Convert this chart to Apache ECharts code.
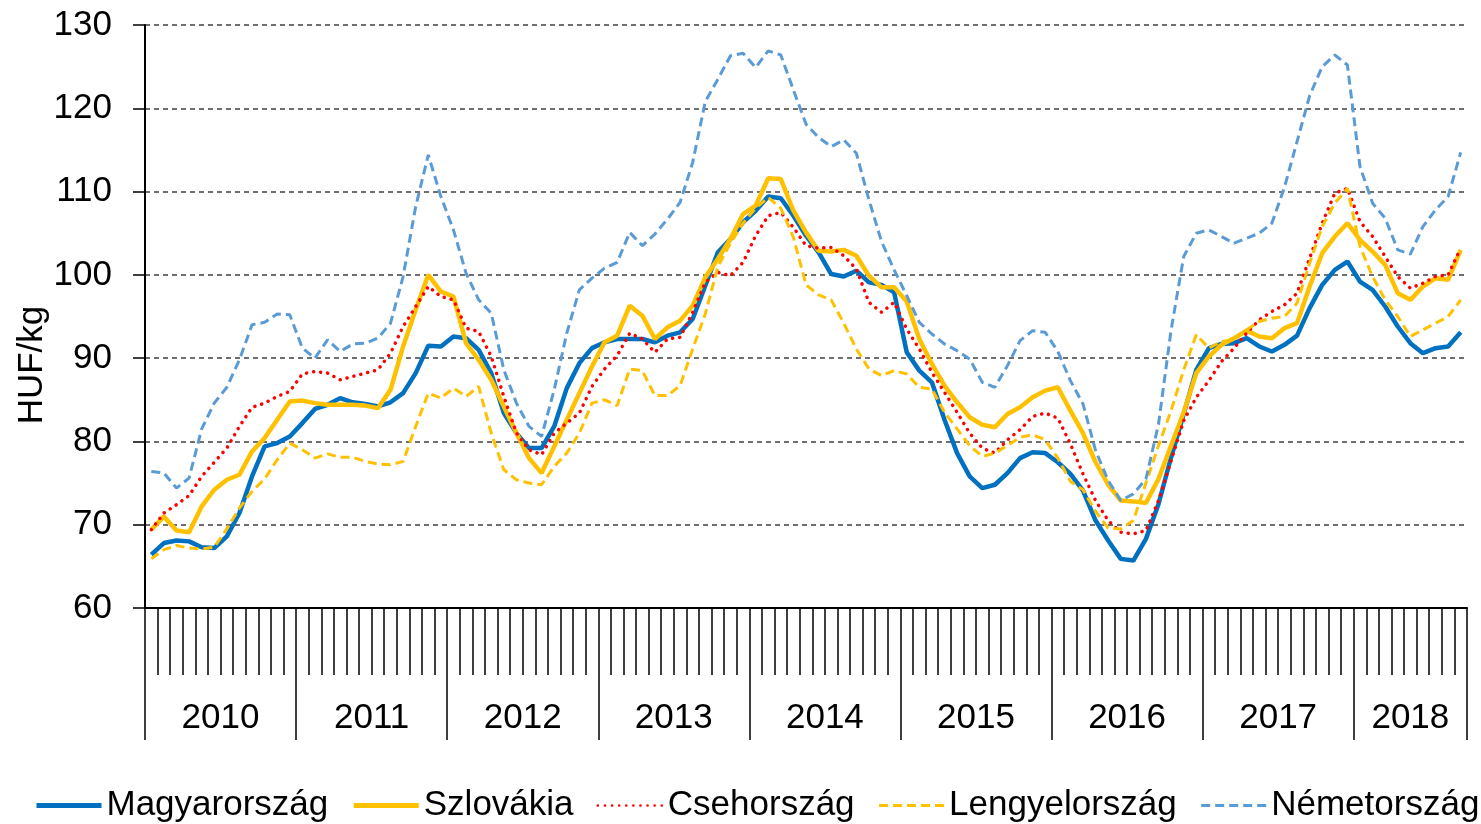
<!DOCTYPE html>
<html>
<head>
<meta charset="utf-8">
<script src="https://cdn.jsdelivr.net/npm/echarts/dist/echarts.min.js"></script>
<style>
  html, body { margin: 0; padding: 0; background: #fff; }
  #chart { width: 1481px; height: 824px; }
</style>
</head>
<body>
<div id="chart"></div>
<script>
// years on the axis and how many months each one has
var years = ['2010', '2011', '2012', '2013', '2014', '2015', '2016', '2017', '2018'];
var monthsPerYear = [12, 12, 12, 12, 12, 12, 12, 12, 9];

var yTicks = [60, 70, 80, 90, 100, 110, 120, 130];

// HUF/kg, monthly, Jan 2010 - Sep 2018
var magyarorszag = [
  66.4, 67.8, 68.1, 68.0, 67.3, 67.2, 68.6, 71.4, 75.8, 79.4, 79.8, 80.6,
  82.2, 83.9, 84.4, 85.2, 84.7, 84.5, 84.2, 84.7, 85.8, 88.2, 91.5, 91.4,
  92.6, 92.4, 91.0, 88.2, 83.4, 81.0, 79.2, 79.2, 81.8, 86.4, 89.4, 91.2,
  91.9, 92.3, 92.3, 92.3, 91.9, 92.7, 93.1, 94.7, 98.7, 102.7, 104.3, 106.3,
  107.7, 109.4, 109.2, 107.1, 104.7, 102.7, 100.1, 99.8, 100.5, 99.1, 98.8, 97.9,
  90.7, 88.5, 87.1, 82.6, 78.6, 75.8, 74.4, 74.8, 76.2, 78.0, 78.7, 78.6,
  77.5, 76.1, 74.1, 70.5, 68.1, 65.9, 65.7, 68.3, 72.5, 78.1, 83.3, 88.6,
  91.2, 91.7, 91.8, 92.4, 91.4, 90.8, 91.6, 92.7, 96.0, 98.8, 100.6, 101.6,
  99.2, 98.2, 96.2, 93.8, 91.8, 90.6, 91.2, 91.4, 93.1
];
var szlovakia = [
  69.4, 71.0, 69.3, 69.1, 72.2, 74.2, 75.4, 76.0, 78.8, 80.4, 82.6, 84.8,
  84.9, 84.6, 84.4, 84.4, 84.4, 84.3, 84.0, 86.2, 91.4, 95.8, 100.0, 98.0,
  97.4, 91.8, 89.8, 87.4, 84.2, 81.0, 78.0, 76.2, 79.4, 82.6, 85.8, 89.0,
  91.9, 92.7, 96.3, 95.1, 92.3, 93.7, 94.5, 96.3, 99.7, 101.9, 104.3, 107.3,
  108.3, 111.6, 111.5, 107.7, 105.1, 102.9, 102.8, 103.0, 102.3, 99.9, 98.5, 98.5,
  96.8, 92.3, 89.3, 86.7, 84.7, 82.9, 82.0, 81.7, 83.3, 84.1, 85.3, 86.1,
  86.5, 83.7, 81.0, 77.5, 74.8, 72.9, 72.8, 72.6, 75.5, 79.5, 83.5, 88.2,
  90.2, 91.6, 92.4, 93.3, 92.6, 92.4, 93.6, 94.2, 98.6, 102.6, 104.6, 106.2,
  104.2, 102.8, 101.2, 97.8, 97.0, 98.6, 99.6, 99.4, 103.0
];
var csehorszag = [
  69.4, 71.4, 72.4, 73.5, 75.8, 77.5, 79.2, 81.8, 84.1, 84.6, 85.4, 86.0,
  88.1, 88.4, 88.2, 87.4, 87.8, 88.2, 88.6, 90.6, 93.8, 96.2, 98.6, 97.4,
  97.0, 93.6, 93.2, 90.2, 85.4, 81.0, 79.0, 78.4, 81.0, 82.2, 83.4, 86.6,
  88.7, 90.3, 93.0, 92.3, 90.7, 92.3, 92.5, 95.5, 99.1, 100.3, 99.9, 101.5,
  104.7, 107.1, 107.5, 105.7, 103.5, 103.2, 103.3, 102.3, 100.7, 96.7, 95.5, 96.7,
  93.5, 91.1, 88.3, 85.9, 83.5, 81.0, 79.2, 78.6, 80.2, 81.4, 83.0, 83.4,
  82.8, 79.7, 76.1, 72.9, 70.5, 69.1, 68.9, 69.3, 72.9, 77.7, 82.5, 85.3,
  87.3, 89.6, 91.2, 93.0, 94.6, 95.6, 96.4, 97.8, 102.0, 106.2, 109.8, 110.4,
  106.4, 104.6, 102.2, 99.8, 98.4, 99.0, 99.8, 100.0, 103.2
];
var lengyelorszag = [
  65.9, 67.0, 67.5, 67.2, 67.1, 67.3, 69.5, 72.0, 74.0, 75.5, 77.8, 79.8,
  79.0, 78.0, 78.5, 78.1, 78.1, 77.6, 77.3, 77.2, 77.6, 81.8, 85.8, 85.2,
  86.4, 85.4, 86.6, 81.0, 76.6, 75.4, 75.0, 74.8, 77.0, 78.6, 81.0, 84.6,
  85.0, 84.3, 88.7, 88.5, 85.5, 85.5, 86.7, 91.1, 95.3, 101.0, 103.8, 106.2,
  108.0, 109.3, 108.0, 104.5, 98.8, 97.6, 97.0, 94.2, 91.1, 88.7, 87.9, 88.5,
  88.1, 86.5, 86.3, 83.5, 81.5, 79.5, 78.2, 78.6, 79.5, 80.5, 80.8, 80.2,
  78.0, 75.2, 74.2, 71.6, 69.6, 69.5, 70.5, 75.0, 79.5, 83.7, 88.6, 92.8,
  91.2, 92.0, 92.2, 93.4, 94.4, 94.8, 95.0, 96.6, 101.4, 105.8, 108.6, 110.4,
  103.4, 99.8, 97.0, 95.0, 92.6, 93.4, 94.2, 95.0, 97.0
];
var nemetorszag = [
  76.4, 76.2, 74.4, 75.6, 81.5, 84.6, 86.5, 89.8, 94.0, 94.3, 95.3, 95.2,
  91.2, 90.0, 92.2, 90.8, 91.7, 91.8, 92.4, 94.2, 99.8, 108.2, 114.4, 109.4,
  105.4, 100.2, 97.0, 95.4, 88.6, 84.6, 81.8, 80.6, 86.2, 93.0, 98.2, 99.6,
  100.8, 101.5, 105.1, 103.5, 104.9, 106.7, 108.7, 113.5, 120.8, 123.5, 126.3, 126.6,
  124.9, 126.9, 126.4, 122.2, 118.1, 116.5, 115.4, 116.2, 114.6, 109.0, 104.0, 100.6,
  97.5, 94.3, 92.9, 91.7, 90.9, 89.9, 87.1, 86.5, 89.1, 92.1, 93.3, 93.1,
  90.8, 87.3, 84.5, 78.9, 75.3, 72.9, 73.7, 75.5, 82.1, 93.4, 102.2, 105.0,
  105.4, 104.6, 103.8, 104.4, 105.0, 106.2, 110.5, 116.0, 121.5, 125.0, 126.4, 125.2,
  113.0, 108.6, 106.8, 103.0, 102.5, 105.8, 107.8, 109.4, 114.7
];

// month categories, year boundaries and the month under each year label
var months = [];
var yearStart = [];
var yearLabelAt = {};
years.forEach(function (y, k) {
  yearStart.push(months.length);
  var n = monthsPerYear[k];
  yearLabelAt[months.length + Math.floor(n / 2)] = { year: y, even: n % 2 === 0 };
  for (var m = 1; m <= n; m++) {
    months.push(y + '-' + (m < 10 ? '0' : '') + m);
  }
});

var font = 'Liberation Sans, Arial, sans-serif';
var bandWidth = (1467 - 145) / months.length;

var option = {
  animation: false,
  textStyle: { fontFamily: font },
  grid: { left: 145, right: 14, top: 25, bottom: 216 },
  legend: {
    left: 34,
    top: 788,
    width: 1470,
    padding: 0,
    itemWidth: 65,
    itemHeight: 14,
    itemGap: 23,
    itemStyle: { opacity: 0, borderWidth: 0 },
    textStyle: { fontSize: 35, color: '#000', fontFamily: font },
    data: [
      { name: 'Magyarország', lineStyle: { width: 5 } },
      { name: 'Szlovákia', lineStyle: { width: 5 } },
      { name: 'Csehország', lineStyle: { width: 2.5 } },
      { name: 'Lengyelország', lineStyle: { width: 3 } },
      { name: 'Németország', lineStyle: { width: 3 } }
    ]
  },
  graphic: [
    {
      type: 'text',
      x: 32,
      y: 365,
      rotation: Math.PI / 2,
      style: {
        text: 'HUF/kg',
        fontSize: 35,
        fontFamily: font,
        fill: '#000',
        align: 'center',
        verticalAlign: 'middle'
      }
    }
  ],
  xAxis: [
    {
      type: 'category',
      data: months,
      boundaryGap: true,
      axisLine: { show: true, lineStyle: { color: '#000', width: 2 } },
      axisTick: { show: true, interval: 0, length: 67, lineStyle: { color: '#000', width: 1.5 } },
      axisLabel: { show: false },
      splitLine: { show: false }
    },
    {
      type: 'category',
      data: months,
      boundaryGap: true,
      position: 'bottom',
      axisLine: { show: false },
      axisTick: {
        show: true,
        interval: function (i) { return yearStart.indexOf(i) >= 0; },
        length: 132,
        lineStyle: { color: '#000', width: 1.5 }
      },
      axisLabel: {
        show: true,
        interval: function (i) { return yearLabelAt[i] !== undefined; },
        margin: 93,
        formatter: function (value, i) {
          var lab = yearLabelAt[i];
          if (!lab) return '';
          return lab.even ? '{s|' + lab.year + '}' : '{n|' + lab.year + '}';
        },
        rich: {
          s: { fontSize: 35, color: '#000', fontFamily: font, padding: [0, bandWidth, 0, 0] },
          n: { fontSize: 35, color: '#000', fontFamily: font }
        }
      },
      splitLine: { show: false }
    }
  ],
  yAxis: {
    type: 'value',
    min: yTicks[0],
    max: yTicks[yTicks.length - 1],
    interval: 10,
    axisLine: { show: true, lineStyle: { color: '#000', width: 2 } },
    axisTick: { show: true, length: 12, lineStyle: { color: '#000', width: 1.5 } },
    axisLabel: { fontSize: 35, color: '#000', margin: 33, fontFamily: font },
    splitLine: { lineStyle: { color: '#404040', width: 1.5, type: [5, 4] } }
  },
  series: [
    {
      name: 'Magyarország',
      type: 'line',
      symbol: 'none',
      data: magyarorszag,
      color: '#0070C0',
      lineStyle: { width: 4.5, color: '#0070C0' }
    },
    {
      name: 'Szlovákia',
      type: 'line',
      symbol: 'none',
      data: szlovakia,
      color: '#FFC000',
      lineStyle: { width: 4.5, color: '#FFC000' }
    },
    {
      name: 'Csehország',
      type: 'line',
      symbol: 'none',
      data: csehorszag,
      color: '#FF0000',
      lineStyle: { width: 3.5, color: '#FF0000', type: [0.1, 7], cap: 'round' }
    },
    {
      name: 'Lengyelország',
      type: 'line',
      symbol: 'none',
      data: lengyelorszag,
      color: '#FFC000',
      lineStyle: { width: 3, color: '#FFC000', type: [9, 5] }
    },
    {
      name: 'Németország',
      type: 'line',
      symbol: 'none',
      data: nemetorszag,
      color: '#5B9BD5',
      lineStyle: { width: 3, color: '#5B9BD5', type: [9, 5] }
    }
  ]
};

var chart = echarts.init(document.getElementById('chart'));
chart.setOption(option);
</script>
</body>
</html>
